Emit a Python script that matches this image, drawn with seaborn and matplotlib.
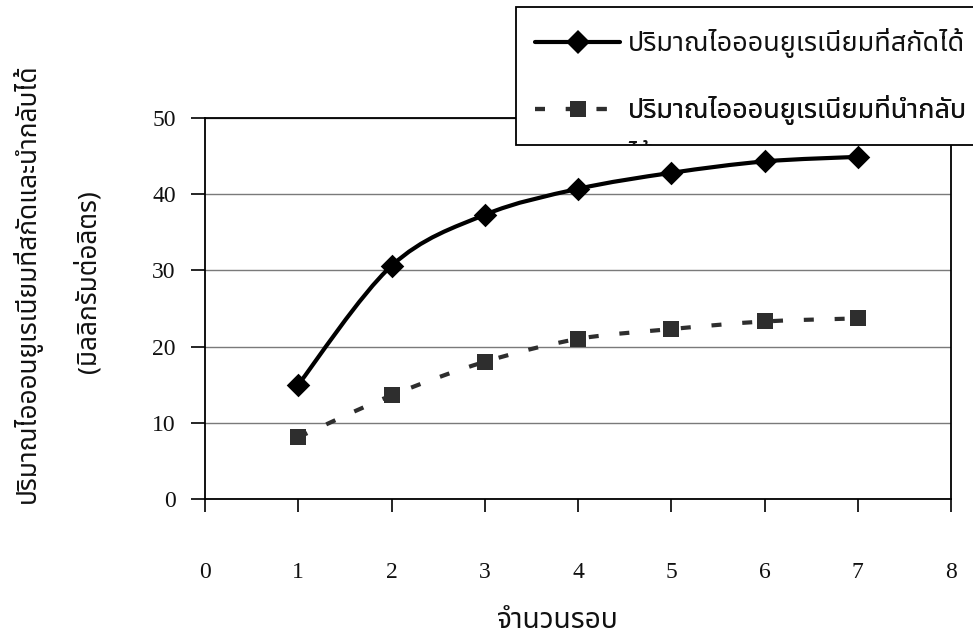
import numpy as np
import pandas as pd
import matplotlib
matplotlib.use("Agg")
import matplotlib.pyplot as plt
import seaborn as sns
from matplotlib import font_manager
from matplotlib.ft2font import FT2Font
from matplotlib.path import Path
from matplotlib.patches import PathPatch, Rectangle
from matplotlib.lines import Line2D
from matplotlib.transforms import Bbox, TransformedBbox

# ---- data -------------------------------------------------------------
cycles = [1, 2, 3, 4, 5, 6, 7]
extracted = [15.0, 30.6, 37.3, 40.7, 42.8, 44.3, 44.9]
recovered = [8.1, 13.6, 18.0, 21.0, 22.3, 23.3, 23.7]

series_names = ["ปริมาณไอออนยูเรเนียมที่สกัดได้",
                "ปริมาณไอออนยูเรเนียมที่นำกลับได้"]
x_ticks = [0, 1, 2, 3, 4, 5, 6, 7, 8]
y_ticks = [0, 10, 20, 30, 40, 50]
x_title = "จำนวนรอบ"
y_title = "ปริมาณไอออนยูเรเนียมที่สกัดและนำกลับได้"
y_unit = "(มิลลิกรัมต่อลิตร)"


def thai_family():
    """Return an installed family that has Thai glyphs."""
    preferred = ["Cordia New", "Browallia New", "Angsana New", "TH Sarabun New",
                 "Noto Sans Thai", "Noto Sans Thai Looped", "Noto Serif Thai",
                 "Garuda", "Loma", "Waree", "Norasi", "Kinnari", "Sawasdee",
                 "Umpush", "Laksaman", "FreeSans", "FreeSerif"]
    found = {}
    for entry in font_manager.fontManager.ttflist:
        try:
            cmap = FT2Font(entry.fname).get_charmap()
        except Exception:
            continue
        if 0x0E01 in cmap and 0x0E33 in cmap:
            found.setdefault(entry.name, entry.fname)
    for name in preferred:
        if name in found:
            return name
    return sorted(found)[0] if found else "DejaVu Sans"


sns.set_theme(style="white")
THAI = thai_family()
NUM_FONT = "Liberation Serif"
plt.rcParams["font.family"] = [NUM_FONT, THAI, "DejaVu Sans"]
THAI_FAM = [THAI, "DejaVu Sans"]
INK = "#111111"

W, H = 973, 641
fig = plt.figure(figsize=(W / 100, H / 100), dpi=100)
fig.patch.set_facecolor("white")
renderer = fig.canvas.get_renderer()


def size_for_width(s, target_px, base=20.0):
    """Font size at which string s spans target_px pixels."""
    probe = fig.text(0, 0, s, fontsize=base, family=THAI_FAM)
    w = probe.get_window_extent(renderer).width
    probe.remove()
    return base * target_px / w


LEG_FS = size_for_width(series_names[0], 337)
XT_FS = size_for_width(x_title, 122)
YT_FS = size_for_width(y_unit, 183)

ax = fig.add_axes([205 / W, 1 - 499 / H, (951 - 205) / W, (499 - 118) / H])
ax.set_facecolor("white")

df = pd.DataFrame({"cycle": cycles * 2,
                   "value": extracted + recovered,
                   "series": [series_names[0]] * len(cycles) + [series_names[1]] * len(cycles)})

styles = {
    series_names[0]: dict(color="black", marker="D", ms=12, lw=3.0, dash=None),
    series_names[1]: dict(color="#2e2e2e", marker="s", ms=12, lw=3.0, dash=(2.4, 5.0)),
}


def smooth_path(xs, ys):
    """Cubic Bezier path through the points (spreadsheet-style smoothing)."""
    pts = np.column_stack([xs, ys]).astype(float)
    n = len(pts)
    verts = [pts[0]]
    codes = [Path.MOVETO]
    for i in range(n - 1):
        p0 = pts[i - 1] if i > 0 else pts[i]
        p1, p2 = pts[i], pts[i + 1]
        p3 = pts[i + 2] if i + 2 < n else pts[i + 1]
        c1 = p1 + (p2 - p0) / 6.0
        c2 = p2 - (p3 - p1) / 6.0
        verts += [c1, c2, p2]
        codes += [Path.CURVE4] * 3
    return Path(verts, codes)


handles = []
for name, sub in df.groupby("series", sort=False):
    st = styles[name]
    path = smooth_path(sub["cycle"].values, sub["value"].values)
    patch = PathPatch(path, facecolor="none", edgecolor=st["color"], lw=st["lw"],
                      zorder=3, capstyle="butt")
    if st["dash"] is not None:
        patch.set_linestyle((0, st["dash"]))
    ax.add_patch(patch)
    sns.scatterplot(data=sub, x="cycle", y="value", marker=st["marker"],
                    s=st["ms"] ** 2, color=st["color"], edgecolor=st["color"],
                    linewidth=0, zorder=4, ax=ax, legend=False)
    handles.append(Line2D([], [], color=st["color"], lw=st["lw"], marker=st["marker"],
                          ms=st["ms"], markeredgewidth=0,
                          linestyle="-" if st["dash"] is None else (0, st["dash"])))

# ---- axes -------------------------------------------------------------
ax.set_xlim(0, 8)
ax.set_ylim(0, 50)
ax.set_xticks(x_ticks)
ax.set_yticks(y_ticks)
ax.set_xticklabels([str(t) for t in x_ticks])
ax.set_yticklabels([str(t) for t in y_ticks])
ax.set_xlabel("")
ax.set_ylabel("")
ax.yaxis.grid(True, color="#7a7a7a", lw=1.0)
ax.xaxis.grid(False)
for side in ["left", "bottom", "right", "top"]:
    ax.spines[side].set_visible(True)
    ax.spines[side].set_color("black")
    ax.spines[side].set_linewidth(1.3)
ax.tick_params(axis="x", direction="out", length=9, width=1.2, color="black",
               pad=36, labelsize=17, bottom=True)
ax.tick_params(axis="y", direction="out", length=10, width=1.2, color="black",
               pad=11, labelsize=17, left=True)
for lab in ax.get_xticklabels() + ax.get_yticklabels():
    lab.set_fontfamily(NUM_FONT)
    lab.set_color(INK)

# ---- titles -----------------------------------------------------------
fig.text(558 / W, 1 - 621 / H, x_title, ha="center", va="center",
         fontsize=XT_FS, family=THAI_FAM, color=INK)
fig.text(27 / W, 1 - 283 / H, y_title, ha="center", va="center", rotation=90,
         fontsize=YT_FS, family=THAI_FAM, color=INK)
fig.text(88 / W, 1 - 282 / H, y_unit, ha="center", va="center", rotation=90,
         fontsize=YT_FS, family=THAI_FAM, color=INK)

# ---- legend box -------------------------------------------------------
fs_px = LEG_FS * 100 / 72
box_x0, box_y0, box_x1, box_y1 = 516, 7, 985, 145
box = Rectangle((box_x0 / W, 1 - box_y1 / H), (box_x1 - box_x0) / W, (box_y1 - box_y0) / H,
                transform=fig.transFigure, facecolor="white", edgecolor="black",
                lw=1.3, zorder=4.5, clip_on=False)
ax.add_patch(box)

row_labels = [series_names[0], "ปริมาณไอออนยูเรเนียมที่นำกลับ"]
row_centers = [43, 110]
for handle, label, yc in zip(handles, row_labels, row_centers):
    leg = ax.legend([handle], [label], loc="center left",
                    bbox_to_anchor=(535 / W, 1 - yc / H), bbox_transform=fig.transFigure,
                    frameon=False, borderpad=0, borderaxespad=0,
                    handlelength=85 / fs_px, handletextpad=8 / fs_px,
                    prop={"family": THAI_FAM, "size": LEG_FS})
    for t in leg.get_texts():
        t.set_color(INK)
    leg.set_zorder(5)
    ax.add_artist(leg)

# the wrapped end of the second label, cut off by the box edge
clip = TransformedBbox(Bbox.from_extents(box_x0 / W, 1 - box_y1 / H, box_x1 / W, 1 - box_y0 / H),
                       fig.transFigure)
tail = fig.text(628 / W, 1 - 163 / H, "ได้", ha="left", va="baseline", fontsize=LEG_FS,
                family=THAI_FAM, color=INK, zorder=6)
tail.set_clip_box(clip)
tail.set_clip_on(True)

fig.savefig("out.png", dpi=100, facecolor="white")
